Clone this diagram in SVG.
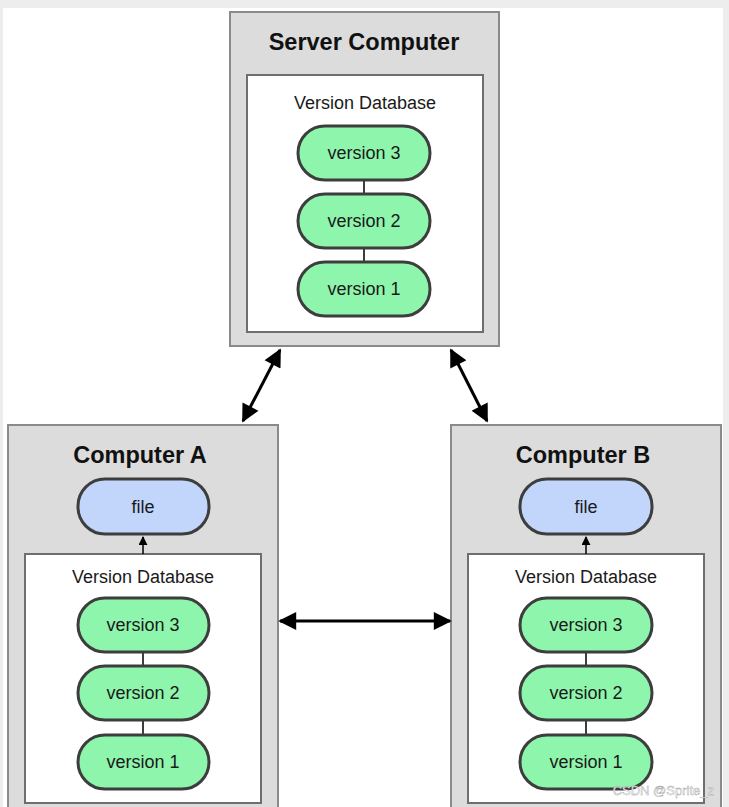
<svg xmlns="http://www.w3.org/2000/svg" width="729" height="807" viewBox="0 0 729 807">
<defs>
<style>
.outer{fill:#dcdcdc;stroke:#8a8a8a;stroke-width:2}
.inner{fill:#ffffff;stroke:#6e6e6e;stroke-width:2}
.ver{fill:#8ef5ad;stroke:#3d3d3d;stroke-width:3}
.file{fill:#c2d6fb;stroke:#3d3d3d;stroke-width:3}
.title{font-family:"Liberation Sans",Arial,sans-serif;font-weight:bold;font-size:23.5px;fill:#111;text-anchor:middle}
.lbl{font-family:"Liberation Sans",Arial,sans-serif;font-size:18px;fill:#1a1a1a;text-anchor:middle}
.link{stroke:#3d3d3d;stroke-width:2;fill:none}
.arrow{stroke:#000;stroke-width:3;fill:none}
.thin{stroke:#000;stroke-width:1.5;fill:none}
</style>
<marker id="ah" viewBox="0 0 10 10" refX="9" refY="5" markerWidth="6.5" markerHeight="6" orient="auto-start-reverse" markerUnits="strokeWidth">
<path d="M0,0 L10,5 L0,10 z" fill="#000"/>
</marker>
<marker id="ahs" viewBox="0 0 10 10" refX="9" refY="5" markerWidth="6" markerHeight="6" orient="auto" markerUnits="strokeWidth">
<path d="M0,0 L10,5 L0,10 z" fill="#000"/>
</marker>
</defs>
<rect x="0" y="0" width="729" height="807" fill="#ededed"/>
<rect x="3" y="8" width="720" height="799" fill="#ffffff"/>

<g id="server">
<rect class="outer" x="230" y="12" width="269" height="334"/>
<text class="title" x="364" y="50">Server Computer</text>
<rect class="inner" x="247" y="75" width="236" height="257"/>
<text class="lbl" x="365" y="109">Version Database</text>
<line class="link" x1="364" y1="180" x2="364" y2="194"/>
<line class="link" x1="364" y1="248" x2="364" y2="262"/>
<g id="server-v3"><rect class="ver" x="298" y="126" width="132" height="54" rx="27"/><text class="lbl" x="364" y="159">version 3</text></g>
<g id="server-v2"><rect class="ver" x="298" y="194" width="132" height="54" rx="27"/><text class="lbl" x="364" y="227">version 2</text></g>
<g id="server-v1"><rect class="ver" x="298" y="262" width="132" height="54" rx="27"/><text class="lbl" x="364" y="295">version 1</text></g>
</g>

<g id="computerA">
<rect class="outer" x="8" y="425" width="270" height="390"/>
<text class="title" x="140" y="463">Computer A</text>
<g id="a-file"><rect class="file" x="78" y="479" width="131" height="55" rx="27"/><text class="lbl" x="143" y="513">file</text></g>
<rect class="inner" x="25" y="554" width="236" height="249"/>
<line class="thin" x1="143" y1="554" x2="143" y2="537" marker-end="url(#ahs)"/>
<text class="lbl" x="143" y="583">Version Database</text>
<line class="link" x1="143" y1="652" x2="143" y2="666"/>
<line class="link" x1="143" y1="720" x2="143" y2="735"/>
<g id="a-v3"><rect class="ver" x="78" y="598" width="131" height="54" rx="27"/><text class="lbl" x="143" y="631">version 3</text></g>
<g id="a-v2"><rect class="ver" x="78" y="666" width="131" height="54" rx="27"/><text class="lbl" x="143" y="699">version 2</text></g>
<g id="a-v1"><rect class="ver" x="78" y="735" width="131" height="54" rx="27"/><text class="lbl" x="143" y="768">version 1</text></g>
</g>

<g id="computerB">
<rect class="outer" x="451" y="425" width="270" height="390"/>
<text class="title" x="583" y="463">Computer B</text>
<g id="b-file"><rect class="file" x="520" y="479" width="132" height="55" rx="27"/><text class="lbl" x="586" y="513">file</text></g>
<rect class="inner" x="468" y="554" width="236" height="249"/>
<line class="thin" x1="586" y1="554" x2="586" y2="537" marker-end="url(#ahs)"/>
<text class="lbl" x="586" y="583">Version Database</text>
<line class="link" x1="586" y1="652" x2="586" y2="666"/>
<line class="link" x1="586" y1="720" x2="586" y2="735"/>
<g id="b-v3"><rect class="ver" x="520" y="598" width="132" height="54" rx="27"/><text class="lbl" x="586" y="631">version 3</text></g>
<g id="b-v2"><rect class="ver" x="520" y="666" width="132" height="54" rx="27"/><text class="lbl" x="586" y="699">version 2</text></g>
<g id="b-v1"><rect class="ver" x="520" y="735" width="132" height="54" rx="27"/><text class="lbl" x="586" y="768">version 1</text></g>
</g>

<g id="connectors">
<line class="arrow" x1="280" y1="350" x2="243" y2="421" marker-start="url(#ah)" marker-end="url(#ah)"/>
<line class="arrow" x1="451" y1="350" x2="487" y2="421" marker-start="url(#ah)" marker-end="url(#ah)"/>
<line class="arrow" x1="280" y1="621" x2="450" y2="621" marker-start="url(#ah)" marker-end="url(#ah)"/>
</g>

<text x="714" y="795" font-family="'Liberation Sans',Arial,sans-serif" font-size="13" fill="#ffffff" stroke="#9a9a9a" stroke-width="0.4" text-anchor="end">CSDN @Sprite_z</text>
</svg>
